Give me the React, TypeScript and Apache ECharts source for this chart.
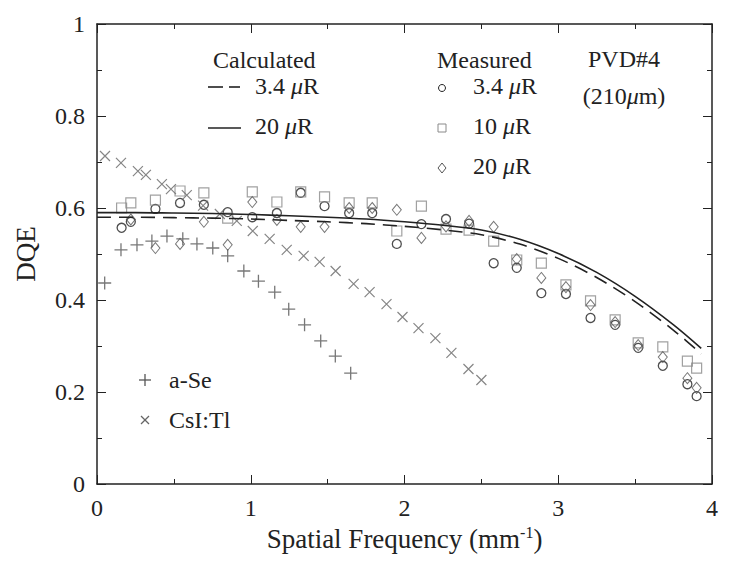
import React, { useEffect, useRef } from "react";
import * as echarts from "echarts";

const FONT = "Liberation Serif";

const measX = [0.16, 0.22, 0.38, 0.54, 0.695, 0.85, 1.01, 1.17, 1.325, 1.48, 1.64, 1.79, 1.95, 2.11, 2.27, 2.42, 2.58, 2.73, 2.89, 3.05, 3.21, 3.37, 3.52, 3.68, 3.84, 3.9];
const meas34 = [0.557, 0.57, 0.598, 0.611, 0.607, 0.591, 0.58, 0.589, 0.633, 0.604, 0.589, 0.589, 0.522, 0.565, 0.576, 0.566, 0.48, 0.47, 0.415, 0.413, 0.361, 0.346, 0.296, 0.257, 0.217, 0.191];
const meas10 = [0.6, 0.611, 0.617, 0.637, 0.633, 0.578, 0.635, 0.613, 0.635, 0.624, 0.611, 0.611, 0.55, 0.604, 0.554, 0.552, 0.528, 0.487, 0.48, 0.433, 0.398, 0.357, 0.307, 0.298, 0.267, 0.252];
const meas20 = [null, 0.575, 0.513, 0.522, 0.57, 0.52, 0.613, 0.574, 0.559, 0.559, 0.6, 0.6, 0.596, 0.535, 0.56, 0.572, 0.559, 0.489, 0.448, 0.428, 0.389, 0.352, 0.302, 0.276, 0.23, 0.209];

const aSeX = [0.05, 0.156, 0.26, 0.357, 0.455, 0.558, 0.65, 0.753, 0.85, 0.955, 1.05, 1.156, 1.247, 1.35, 1.455, 1.55, 1.65];
const aSeY = [0.437, 0.509, 0.52, 0.528, 0.539, 0.533, 0.522, 0.513, 0.496, 0.463, 0.441, 0.417, 0.38, 0.346, 0.311, 0.278, 0.241];

const csiX = [0.052, 0.156, 0.266, 0.318, 0.422, 0.481, 0.584, 0.69, 0.799, 0.909, 1.013, 1.123, 1.234, 1.344, 1.448, 1.552, 1.669, 1.773, 1.883, 1.987, 2.091, 2.201, 2.305, 2.416, 2.5];
const csiY = [0.713, 0.698, 0.68, 0.672, 0.652, 0.641, 0.628, 0.605, 0.587, 0.572, 0.55, 0.533, 0.509, 0.496, 0.483, 0.463, 0.435, 0.417, 0.391, 0.363, 0.339, 0.317, 0.285, 0.25, 0.226];

const calcX = [0, 0.25, 0.5, 0.75, 1.0, 1.25, 1.5, 1.75, 2.0, 2.25, 2.5, 2.75, 3.0, 3.25, 3.5, 3.75, 3.93];
const calc20 = [0.59, 0.59, 0.589, 0.588, 0.586, 0.583, 0.58, 0.576, 0.57, 0.5625, 0.552, 0.532, 0.501, 0.46, 0.408, 0.346, 0.295];
const calc34 = [0.58, 0.58, 0.579, 0.578, 0.576, 0.573, 0.57, 0.566, 0.56, 0.5525, 0.542, 0.5215, 0.4905, 0.449, 0.3966, 0.3342, 0.283];

const xTicks = [0, 1, 2, 3, 4];
const yTicks = [0, 0.2, 0.4, 0.6, 0.8, 1];

const zip = (xs: number[], ys: (number | null)[]) =>
  xs.map((x, i) => [x, ys[i]]).filter((p) => p[1] !== null);

const PLUS = "path://M5,0L5,10M0,5L10,5";
const CROSS = "path://M0,0L10,10M10,0L0,10";

export default function App() {
  const ref = useRef<HTMLDivElement>(null);
  useEffect(() => {
    if (!ref.current) return;
    const chart = echarts.init(ref.current, undefined, { renderer: "svg" });
    const axisCommon = {
      type: "value" as const,
      axisLine: { show: true, onZero: false, lineStyle: { color: "#222", width: 1.5 } },
      axisTick: { show: true, inside: true, length: 9, lineStyle: { color: "#222", width: 1 } },
      minorTick: { show: true, splitNumber: 2, length: 5, lineStyle: { color: "#222", width: 1 } },
      splitLine: { show: false },
      minorSplitLine: { show: false },
    };
    const labelStyle = { fontFamily: FONT, fontSize: 24, color: "#222" };
    const nameStyle = { fontFamily: FONT, fontSize: 27, color: "#222" };
    const mu = { i: { fontFamily: FONT, fontSize: 24, fontStyle: "italic", fill: "#222" } };
    const txt = (x: number, y: number, text: string, align = "left") => ({
      type: "text",
      x,
      y,
      style: { text, fontFamily: FONT, fontSize: 24, fill: "#222", textAlign: align, textVerticalAlign: "middle", rich: mu },
    });
    chart.setOption({
      animation: false,
      grid: { left: 97, right: 32, top: 24, bottom: 84 },
      xAxis: [
        {
          ...axisCommon,
          min: 0,
          max: 4,
          interval: 1,
          position: "bottom",
          axisLabel: { ...labelStyle, margin: 12, formatter: (v: number) => (xTicks.includes(v) ? String(v) : "") },
          name: "Spatial Frequency (mm{sup|-1})",
          nameLocation: "middle",
          nameGap: 38,
          nameTextStyle: {
            ...nameStyle,
            rich: { sup: { fontFamily: FONT, fontSize: 16, color: "#222", padding: [0, 0, 13, 0] } },
          },
        },
        { ...axisCommon, min: 0, max: 4, interval: 1, position: "top", axisLabel: { show: false } },
      ],
      yAxis: [
        {
          ...axisCommon,
          min: 0,
          max: 1,
          interval: 0.2,
          position: "left",
          axisLabel: { ...labelStyle, margin: 12, formatter: (v: number) => (yTicks.some((t) => Math.abs(t - v) < 1e-9) ? String(+v.toFixed(1)) : "") },
          name: "DQE",
          nameLocation: "middle",
          nameGap: 58,
          nameRotate: 90,
          nameTextStyle: nameStyle,
        },
        { ...axisCommon, min: 0, max: 1, interval: 0.2, position: "right", axisLabel: { show: false } },
      ],
      series: [
        {
          name: "Calculated 3.4 μR",
          type: "line",
          data: zip(calcX, calc34),
          smooth: 0.3,
          showSymbol: false,
          lineStyle: { color: "#222", width: 1.6, type: [14, 8] },
        },
        {
          name: "Calculated 20 μR",
          type: "line",
          data: zip(calcX, calc20),
          smooth: 0.3,
          showSymbol: false,
          lineStyle: { color: "#222", width: 1.6 },
        },
        {
          name: "Measured 3.4 μR",
          type: "scatter",
          data: zip(measX, meas34),
          symbol: "circle",
          symbolSize: 9,
          itemStyle: { color: "rgba(0,0,0,0)", borderColor: "#222", borderWidth: 1.3 },
        },
        {
          name: "Measured 10 μR",
          type: "scatter",
          data: zip(measX, meas10),
          symbol: "rect",
          symbolSize: 10,
          itemStyle: { color: "rgba(0,0,0,0)", borderColor: "#8a8a8a", borderWidth: 1.2 },
        },
        {
          name: "Measured 20 μR",
          type: "scatter",
          data: zip(measX, meas20),
          symbol: "diamond",
          symbolSize: [9, 11],
          itemStyle: { color: "rgba(0,0,0,0)", borderColor: "#555", borderWidth: 1 },
        },
        {
          name: "a-Se",
          type: "scatter",
          data: zip(aSeX, aSeY),
          symbol: PLUS,
          symbolSize: 13,
          itemStyle: { color: "rgba(0,0,0,0)", borderColor: "#555", borderWidth: 1.3 },
        },
        {
          name: "CsI:Tl",
          type: "scatter",
          data: zip(csiX, csiY),
          symbol: CROSS,
          symbolSize: 10,
          itemStyle: { color: "rgba(0,0,0,0)", borderColor: "#666", borderWidth: 1.2 },
        },
      ],
      graphic: [
        txt(213, 60, "Calculated"),
        { type: "line", shape: { x1: 208, y1: 87, x2: 223, y2: 87 }, style: { stroke: "#222", lineWidth: 1.6 } },
        { type: "line", shape: { x1: 229, y1: 87, x2: 240, y2: 87 }, style: { stroke: "#222", lineWidth: 1.6 } },
        txt(255, 86, "3.4 {i|μ}R"),
        { type: "line", shape: { x1: 208, y1: 128, x2: 241, y2: 128 }, style: { stroke: "#222", lineWidth: 1.6 } },
        txt(255, 126, "20 {i|μ}R"),
        txt(437, 60, "Measured"),
        { type: "circle", shape: { cx: 442, cy: 88, r: 3.5 }, style: { fill: "none", stroke: "#222", lineWidth: 1 } },
        txt(473, 86, "3.4 {i|μ}R"),
        { type: "rect", shape: { x: 438, y: 124, width: 8, height: 8 }, style: { fill: "none", stroke: "#8a8a8a", lineWidth: 1 } },
        txt(473, 126, "10 {i|μ}R"),
        { type: "polygon", shape: { points: [[442, 163], [446, 168], [442, 173], [438, 168]] }, style: { fill: "none", stroke: "#555", lineWidth: 1 } },
        txt(473, 166, "20 {i|μ}R"),
        txt(624, 59, "PVD#4", "center"),
        txt(624, 96, "(210{i|μ}m)", "center"),
        { type: "line", shape: { x1: 139, y1: 380, x2: 151, y2: 380 }, style: { stroke: "#555", lineWidth: 1.3 } },
        { type: "line", shape: { x1: 145, y1: 374, x2: 145, y2: 386 }, style: { stroke: "#555", lineWidth: 1.3 } },
        txt(169, 380, "a-Se"),
        { type: "line", shape: { x1: 141, y1: 416, x2: 149, y2: 424 }, style: { stroke: "#666", lineWidth: 1.2 } },
        { type: "line", shape: { x1: 149, y1: 416, x2: 141, y2: 424 }, style: { stroke: "#666", lineWidth: 1.2 } },
        txt(169, 420, "CsI:Tl"),
      ],
    });
    return () => chart.dispose();
  }, []);
  return (
    <div
      ref={ref}
      style={{ position: "fixed", left: 0, top: 0, width: 744, height: 568, background: "#fff" }}
    />
  );
}
